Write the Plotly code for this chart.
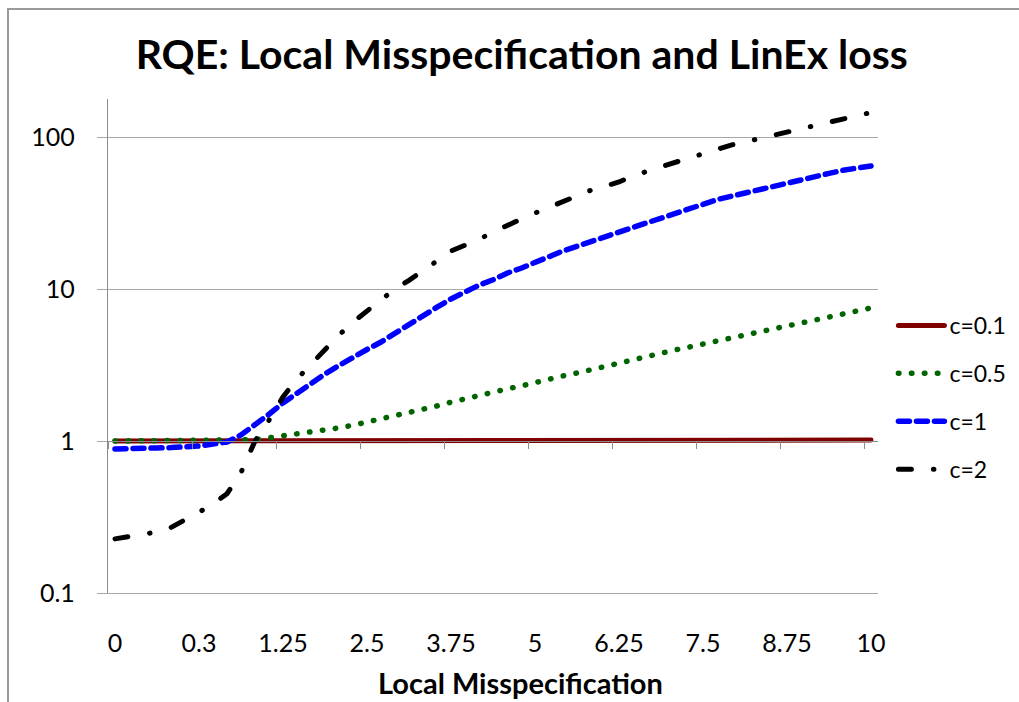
import plotly.graph_objects as go

# Local misspecification grid (category axis); every 6th value is labelled
categories = [
    "0", "0.05", "0.1", "0.15", "0.2", "0.25", "0.3",
    "0.45", "0.6", "0.75", "0.9", "1.1", "1.25",
    "1.46", "1.67", "1.88", "2.08", "2.29", "2.5",
    "2.71", "2.92", "3.13", "3.33", "3.54", "3.75",
    "3.96", "4.17", "4.38", "4.58", "4.79", "5",
    "5.21", "5.42", "5.63", "5.83", "6.04", "6.25",
    "6.46", "6.67", "6.88", "7.08", "7.29", "7.5",
    "7.71", "7.92", "8.13", "8.33", "8.54", "8.75",
    "8.96", "9.17", "9.38", "9.58", "9.79", "10",
]
tick_labels = ["0", "0.3", "1.25", "2.5", "3.75", "5", "6.25", "7.5", "8.75", "10"]

# Relative quadratic error for each LinEx parameter c
rqe_c01 = [
    1.0, 1.0, 1.0, 1.0, 1.0, 1.0, 1.0, 1.0, 1.0, 1.0, 1.0, 1.0, 1.0,
    1.0, 1.0, 1.0, 1.0, 1.0, 1.0, 1.0, 1.0, 1.0, 1.0, 1.0, 1.0,
    1.0, 1.0, 1.0, 1.0, 1.0, 1.0, 1.0, 1.0, 1.0, 1.0, 1.0, 1.0,
    1.0, 1.0, 1.0, 1.0, 1.005, 1.01, 1.01, 1.01, 1.01, 1.01, 1.012, 1.012,
    1.012, 1.013, 1.013, 1.014, 1.014, 1.015,
]
rqe_c05 = [
    1.0, 1.0, 1.0, 1.0, 1.0, 1.0, 1.0, 1.0, 1.0, 1.0, 1.02, 1.05, 1.08,
    1.11, 1.15, 1.18, 1.22, 1.27, 1.33, 1.40, 1.46, 1.53, 1.60, 1.70, 1.80,
    1.90, 1.99, 2.10, 2.20, 2.30, 2.43, 2.54, 2.68, 2.80, 2.95, 3.11, 3.26,
    3.41, 3.57, 3.79, 3.97, 4.15, 4.35, 4.54, 4.76, 4.98, 5.21, 5.45, 5.70,
    5.97, 6.25, 6.55, 6.85, 7.17, 7.5,
]
rqe_c1 = [
    0.886, 0.886, 0.89, 0.90, 0.905, 0.91, 0.927, 0.955, 0.985, 1.095, 1.27, 1.50, 1.78,
    2.07, 2.40, 2.76, 3.14, 3.57, 4.0, 4.48, 5.13, 5.88, 6.64, 7.6, 8.6,
    9.55, 10.6, 11.5, 12.7, 13.7, 15.1, 16.3, 17.8, 19.0, 20.5, 22.0, 23.7,
    25.4, 27.2, 29.5, 31.8, 34.2, 36.6, 38.7, 40.7, 42.9, 45.0, 47.0, 49.8,
    52.5, 55.0, 57.6, 60.4, 62.7, 64.5,
]
rqe_c2 = [
    0.227, 0.234, 0.24, 0.252, 0.27, 0.30, 0.34, 0.385, 0.45, 0.62, 1.0, 1.37, 1.95,
    2.56, 3.2, 3.96, 4.98, 6.06, 7.2, 8.5, 10.0, 11.4, 13.1, 15.3, 17.8,
    19.4, 21.2, 23.7, 26.4, 28.8, 31.6, 34.6, 38.0, 41.5, 44.7, 47.5, 50.6,
    55.5, 59.6, 63.5, 68.3, 72.8, 77.5, 83.0, 88.5, 92.8, 97.5, 102, 108,
    113, 119, 125, 131, 137, 145,
]

series = [
    ("c=0.1", rqe_c01, "#800000", "solid", 5),
    ("c=0.5", rqe_c05, "#006400", "0.5px,12.5px", 5.5),
    ("c=1", rqe_c1, "#0000FF", "11px,7px", 5.5),
    ("c=2", rqe_c2, "#000000", "13px,22px,0.5px,22px", 5),
]

FONT = "Lato"
GRID = "#a8a8a8"
AXIS = "#8c8c8c"

fig = go.Figure()
for i, (name, vals, color, dash, width) in enumerate(series):
    fig.add_trace(go.Scatter(
        x=categories, y=vals, name=name, mode="lines",
        line=dict(color=color, dash=dash, width=width),
        legendgroup=f"g{i}",
    ))

n = len(categories)
label_pos = [categories.index(t) for t in tick_labels]

fig.update_layout(
    width=1019, height=702,
    margin=dict(l=108, r=141, t=99, b=109, autoexpand=False),
    paper_bgcolor="white", plot_bgcolor="white",
    font=dict(family=FONT, color="black"),
    title=dict(
        text="<b>RQE: Local Misspecification and LinEx loss</b>",
        x=0.512, xref="container", xanchor="center",
        y=1 - 55 / 702, yref="container", yanchor="middle",
        font=dict(size=41, family=FONT),
    ),
    showlegend=True,
    legend=dict(
        x=1.02, xanchor="left", y=0.585, yanchor="top",
        font=dict(size=23, family=FONT),
        tracegroupgap=15, bgcolor="rgba(0,0,0,0)",
        itemwidth=46,
    ),
    xaxis=dict(
        type="category", range=[-0.5, n - 0.5],
        tickmode="array", tickvals=tick_labels, ticktext=tick_labels,
        showgrid=False, zeroline=False, ticks="",
        showline=True, linecolor=GRID, linewidth=1.3,
        tickfont=dict(size=25, family=FONT), ticklabelstandoff=28,
    ),
    # horizontal axis line crossing the log axis at 1, ticks on category boundaries
    xaxis2=dict(
        overlaying="x", anchor="free", position=1 / 3.25,
        range=[-0.5, n - 0.5], showgrid=False, zeroline=False,
        showline=True, linecolor=AXIS, linewidth=1.3,
        ticks="outside", ticklen=7, tickcolor=AXIS, tickwidth=1.3,
        tickmode="array", tickvals=[p - 0.5 for p in label_pos],
        showticklabels=False,
    ),
    yaxis=dict(
        type="log", range=[-1, 2.25],
        tickmode="array", tickvals=[0.1, 1, 10, 100], ticktext=["0.1", "1", "10", "100"],
        showgrid=True, gridcolor=GRID, gridwidth=1.3,
        showline=True, linecolor=AXIS, linewidth=1.3,
        ticks="outside", ticklen=10, tickcolor=GRID, tickwidth=1.3,
        tickfont=dict(size=25, family=FONT), ticklabelstandoff=17,
        zeroline=False,
    ),
    annotations=[dict(
        text="<b>Local Misspecification</b>", xref="paper", yref="paper",
        x=0.536, y=-0.182, xanchor="center", yanchor="middle",
        showarrow=False, font=dict(size=29, family=FONT),
    )],
    shapes=[dict(
        type="rect", xref="paper", yref="paper",
        x0=-100 / 770, x1=1.3, y0=-0.4, y1=584 / 494,
        line=dict(color="#9a9a9a", width=2), layer="below",
    )],
)

# invisible trace so xaxis2 is drawn
fig.add_trace(go.Scatter(x=[0], y=[1], xaxis="x2", mode="markers",
                         marker=dict(opacity=0), showlegend=False, hoverinfo="skip"))

round_caps = (
    "document.querySelectorAll('.scatterlayer .js-line, .legendlines path')"
    ".forEach(function(p){p.style.strokeLinecap='round';});"
)
fig.write_html("out.html", post_script=round_caps)
